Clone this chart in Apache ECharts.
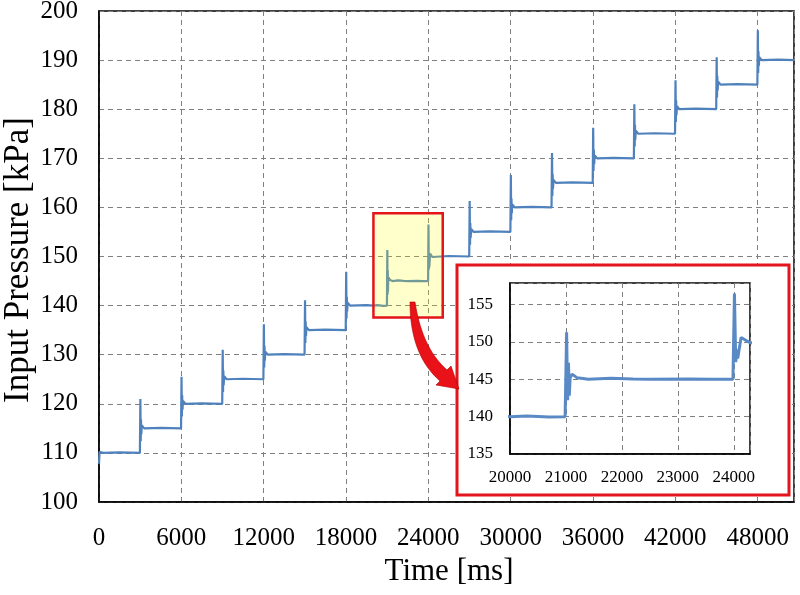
<!DOCTYPE html>
<html>
<head>
<meta charset="utf-8">
<script src="https://cdn.jsdelivr.net/npm/echarts@6/dist/echarts.min.js"></script>
<style>
html,body{margin:0;padding:0;background:#fff;}
#chart{width:800px;height:595px;}
</style>
</head>
<body>
<div id="chart"></div>
<script>
// ---- data ----
const pressureSamples = [
  [0,107.8],[40,110.2],[300,110],[1500,110.1],[2980,110],
  [3000,110],[3015,121.0],[3040,112.4],[3060,116.8],[3085,113.8],[3120,115.6],[3300,115],[4500,115.1],[5980,115],
  [6000,115],[6015,125.5],[6040,117.4],[6060,121.8],[6085,118.8],[6120,120.6],[6300,120],[7500,120.1],[8980,120],
  [9000,120],[9015,131.0],[9040,122.4],[9060,126.8],[9085,123.8],[9120,125.6],[9300,125],[10500,125.1],[11980,125],
  [12000,125],[12015,136.2],[12040,127.4],[12060,131.8],[12085,128.8],[12120,130.6],[12300,130],[13500,130.1],[14980,130],
  [15000,130],[15015,141.1],[15040,132.4],[15060,136.8],[15085,133.8],[15120,135.6],[15300,135],[16500,135.1],[17980,135],
  [18000,135],[18015,146.9],[18040,137.4],[18060,141.8],[18085,138.8],[18120,140.6],[18300,140],[19500,140.1],[20000,140],
  [20300,140.1],[20700,139.95],[20985,140],
  [21000,140],[21012,151.3],[21030,142.2],[21045,147.2],[21060,142.8],[21075,145.2],[21110,145.7],[21200,145.2],[21400,145],
  [21800,145.15],[22200,145.05],[22500,145],[23200,145.05],[23600,145],[23985,145],
  [24000,145],[24012,156.5],[24035,147.3],[24055,149.0],[24070,147.8],[24130,150.6],[24290,149.9],[25500,150.1],[26980,150],
  [27000,150],[27015,161.3],[27040,152.4],[27060,156.8],[27085,153.8],[27120,155.6],[27300,155],[28500,155.1],[29980,155],
  [30000,155],[30015,166.6],[30040,157.4],[30060,161.8],[30085,158.8],[30120,160.6],[30300,160],[31500,160.1],[32980,160],
  [33000,160],[33015,171.1],[33040,162.4],[33060,166.8],[33085,163.8],[33120,165.6],[33300,165],[34500,165.1],[35980,165],
  [36000,165],[36015,176.2],[36040,167.4],[36060,171.8],[36085,168.8],[36120,170.6],[36300,170],[37500,170.1],[38980,170],
  [39000,170],[39015,181.0],[39040,172.4],[39060,176.8],[39085,173.8],[39120,175.6],[39300,175],[40500,175.1],[41980,175],
  [42000,175],[42015,185.9],[42040,177.4],[42060,181.8],[42085,178.8],[42120,180.6],[42300,180],[43500,180.1],[44980,180],
  [45000,180],[45015,190.6],[45040,182.4],[45060,186.8],[45085,183.8],[45120,185.6],[45300,185],[46500,185.1],[47980,185],
  [48000,185],[48015,196.1],[48040,187.4],[48060,191.8],[48085,188.8],[48120,190.6],[48300,190],[49500,190.1],[50650,190]
];
const mainTimeRange = [0, 50650];
const mainPressureRange = [100, 200];
const insetTimeRange = [20000, 24290];
const insetPressureRange = [135, 157.9];
const highlightTime = [20000, 25050];
const highlightPressure = [137.6, 158.8];
const xTitle = 'Time [ms]';
const yTitle = 'Input Pressure [kPa]';

const FONT = 'Liberation Serif';
const chart = echarts.init(document.getElementById('chart'));

const dashed = {show:true, lineStyle:{color:'#7f7f7f', width:1, type:[5,4]}};
const plain = v => String(v);

chart.setOption({
  animation:false,
  backgroundColor:'#fff',
  grid:[
    {left:99, right:6, top:11, bottom:93, show:true, borderColor:'#000', borderWidth:1.5, z:0,
     containLabel:false, outerBoundsMode:'none'},
    {left:510, right:50, top:283, bottom:141, show:true, borderColor:'#000', borderWidth:1.5,
     backgroundColor:'transparent', z:2, containLabel:false, outerBoundsMode:'none'}
  ],
  xAxis:[
    {type:'value', gridIndex:0, min:mainTimeRange[0], max:mainTimeRange[1], interval:6000,
     axisLine:{show:true, lineStyle:{color:'#000', width:1.5}}, axisTick:{show:false},
     splitLine:dashed,
     axisLabel:{color:'#000', fontFamily:FONT, fontSize:25, margin:24, showMaxLabel:false, formatter:plain,
                verticalAlign:'top', lineHeight:25}},
    {type:'value', gridIndex:1, min:insetTimeRange[0], max:insetTimeRange[1], interval:1000, z:3,
     axisLine:{show:true, lineStyle:{color:'#000', width:1.5}}, axisTick:{show:false},
     splitLine:dashed,
     axisLabel:{color:'#000', fontFamily:FONT, fontSize:17, margin:15, showMaxLabel:false, formatter:plain,
                verticalAlign:'top', lineHeight:17}}
  ],
  yAxis:[
    {type:'value', gridIndex:0, min:mainPressureRange[0], max:mainPressureRange[1], interval:10,
     axisLine:{show:true, lineStyle:{color:'#000', width:1.5}}, axisTick:{show:false},
     splitLine:dashed,
     axisLabel:{color:'#000', fontFamily:FONT, fontSize:25, margin:21, formatter:plain}},
    {type:'value', gridIndex:1, min:insetPressureRange[0], max:insetPressureRange[1], interval:5, z:3,
     axisLine:{show:true, lineStyle:{color:'#000', width:1.5}}, axisTick:{show:false},
     splitLine:dashed,
     axisLabel:{color:'#000', fontFamily:FONT, fontSize:17, margin:17, showMaxLabel:false, formatter:plain}}
  ],
  series:[
    {type:'line', xAxisIndex:0, yAxisIndex:0, data:pressureSamples, showSymbol:false, z:2,
     lineStyle:{color:'#4f81bd', width:2.2}, clip:true},
    {type:'line', xAxisIndex:1, yAxisIndex:1, data:pressureSamples, showSymbol:false, z:4,
     lineStyle:{color:'#5a8ac6', width:3}, clip:true}
  ]
});

// annotations: highlight window (from data coords), inset frame, arrow, axis titles
const p0 = chart.convertToPixel({gridIndex:0}, [highlightTime[0], highlightPressure[1]]);
const p1 = chart.convertToPixel({gridIndex:0}, [highlightTime[1], highlightPressure[0]]);

function quad(a, c, b, n) {
  const pts = [];
  for (let i = 0; i <= n; i++) {
    const t = i / n, u = 1 - t;
    pts.push([u*u*a[0] + 2*u*t*c[0] + t*t*b[0], u*u*a[1] + 2*u*t*c[1] + t*t*b[1]]);
  }
  return pts;
}
const arrowPts = []
  .concat(quad([410,302],[410,355],[440,381],18))
  .concat([[436,385],[459,389],[451,366]])
  .concat(quad([447,370],[422,348],[415,302],18));

chart.setOption({
  graphic:[
    {type:'rect', z:1, shape:{x:457, y:265, width:332, height:230},
     style:{fill:'#fff', stroke:'#e3141b', lineWidth:3}},
    {type:'rect', z:3, shape:{x:p0[0], y:p0[1], width:p1[0]-p0[0], height:p1[1]-p0[1]},
     style:{fill:'rgba(255,255,0,0.2)', stroke:'#e3141b', lineWidth:2.5}},
    {type:'polygon', z:5, shape:{points:arrowPts},
     style:{fill:'#ea1219', stroke:'#b00000', lineWidth:0.6}},
    {type:'text', z:5, x:449, y:572,
     style:{text:xTitle, fill:'#000', font:'31px "Liberation Serif"', align:'center', verticalAlign:'middle'}},
    {type:'text', z:5, x:19, y:260, rotation:Math.PI/2,
     style:{text:yTitle, fill:'#000', font:'35px "Liberation Serif"', align:'center', verticalAlign:'middle'}}
  ]
});
</script>
</body>
</html>
